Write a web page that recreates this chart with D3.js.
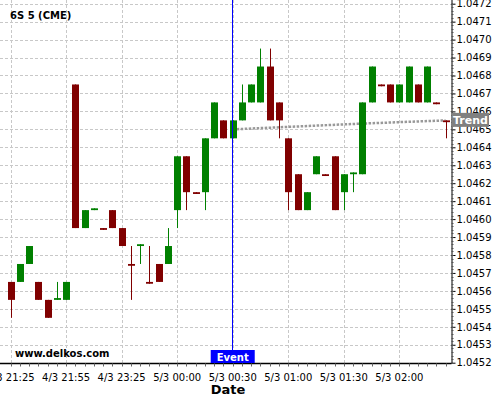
<!DOCTYPE html>
<html><head><meta charset="utf-8">
<script src="https://cdn.jsdelivr.net/npm/d3@7"></script>
<style>body{margin:0;background:#fff}svg{display:block;font-family:"DejaVu Sans",sans-serif}</style>
</head><body><svg id="c" width="500" height="400"></svg>
<script>
const opens  = [1.04565,1.04565,1.04575,1.04565,1.04555,1.04555,1.04555,1.04675,1.04595,1.04605,1.04595,1.04605,1.04595,1.04575,1.04585,1.04565,1.04575,1.04575,1.04605,1.04635,1.04615,1.04615,1.04645,1.04655,1.04645,1.04655,1.04665,1.04665,1.04685,1.04665,1.04645,1.04625,1.04605,1.04625,1.04625,1.04635,1.04615,1.04625,1.04625,1.04665,1.04675,1.04675,1.04665,1.04665,1.04675,1.04665,1.04665,1.04655];
const closes = [1.04555,1.04575,1.04585,1.04555,1.04545,1.04556,1.04565,1.04595,1.04605,1.04606,1.04594,1.04595,1.04585,1.04574,1.04586,1.04564,1.04565,1.04585,1.04635,1.04615,1.04614,1.04645,1.04665,1.04645,1.04655,1.04665,1.04675,1.04685,1.04655,1.04655,1.04615,1.04605,1.04615,1.04635,1.04624,1.04605,1.04625,1.04626,1.04665,1.04685,1.04674,1.04665,1.04675,1.04685,1.04665,1.04685,1.04664,1.04654];
const highs  = [1.04565,1.04575,1.04585,1.04565,1.04555,1.04565,1.04565,1.04675,1.04605,1.04606,1.04595,1.04605,1.04595,1.04585,1.04586,1.04585,1.04575,1.04595,1.04635,1.04635,1.04615,1.04645,1.04665,1.04655,1.04655,1.04675,1.04675,1.04695,1.04695,1.04665,1.04645,1.04625,1.04615,1.04635,1.04625,1.04635,1.04625,1.04626,1.04665,1.04685,1.04675,1.04675,1.04675,1.04685,1.04675,1.04685,1.04665,1.04655];
const lows   = [1.04545,1.04565,1.04575,1.04555,1.04545,1.04555,1.04555,1.04595,1.04595,1.04605,1.04594,1.04595,1.04585,1.04555,1.04575,1.04564,1.04565,1.04575,1.04595,1.04605,1.04614,1.04605,1.04645,1.04645,1.04645,1.04655,1.04665,1.04665,1.04655,1.04645,1.04605,1.04605,1.04605,1.04625,1.04624,1.04605,1.04605,1.04615,1.04625,1.04665,1.04674,1.04665,1.04665,1.04665,1.04665,1.04665,1.04664,1.04645];
const xLabels = ["4/3 21:25","4/3 21:55","4/3 23:25","5/3 00:00","5/3 00:30","5/3 01:00","5/3 01:30","5/3 02:00"];
const xLabelIdx = [0,6,12,18,24,30,36,42];
const yTicks = [1.0452,1.0453,1.0454,1.0455,1.0456,1.0457,1.0458,1.0459,1.0460,1.0461,1.0462,1.0463,1.0464,1.0465,1.0466,1.0467,1.0468,1.0469,1.0470,1.0471,1.0472];
const trendIdx = [24,37,47];
const trendVal = [1.04650,1.04653,1.04655];
const eventIdx = 24;
const title = "6S 5 (CME)";

const svg = d3.select("#c");
const axisX = 451.5, axisY = 363.5;
const x = d3.scaleLinear().domain([0,47]).range([10.6,445.6]);
const y = d3.scaleLinear().domain([1.0452,1.0472]).range([362.7,3.7]);

// grid
const g = svg.append("g");
g.selectAll(".hg").data(yTicks).join("line")
  .attr("x1",0).attr("x2",axisX).attr("y1",d=>Math.round(y(d))+0.5).attr("y2",d=>Math.round(y(d))+0.5)
  .attr("stroke","#c8c8c8").attr("stroke-dasharray","3,2");
g.selectAll(".vg").data(xLabelIdx).join("line")
  .attr("y1",0).attr("y2",axisY).attr("x1",d=>Math.round(x(d))+0.5).attr("x2",d=>Math.round(x(d))+0.5)
  .attr("stroke","#c8c8c8").attr("stroke-dasharray","3,2");

// title
svg.append("text").attr("x",10).attr("y",19).attr("font-size",10).attr("font-weight","bold").text(title);

// trend (behind candles)
svg.append("path").datum(trendIdx.map((d,i)=>[d,trendVal[i]]))
  .attr("d",d3.line().x(d=>x(d[0])).y(d=>y(d[1])))
  .attr("fill","none").attr("stroke","#999").attr("stroke-width",2.5).attr("stroke-dasharray","2.5,1.5");

// candles
const idx = d3.range(opens.length);
const cg = svg.append("g");
const col = i => closes[i] >= opens[i] ? "#008000" : "#800000";
cg.selectAll(".w").data(idx).join("line")
  .attr("x1",i=>Math.round(x(i))+0.5).attr("x2",i=>Math.round(x(i))+0.5)
  .attr("y1",i=>y(highs[i])).attr("y2",i=>y(lows[i]))
  .attr("stroke",col).attr("stroke-width",1);
cg.selectAll(".b").data(idx).join("rect")
  .attr("x",i=>Math.round(x(i))-3).attr("width",7)
  .attr("y",i=>Math.min(y(opens[i]),y(closes[i])))
  .attr("height",i=>Math.max(1.5,Math.abs(y(opens[i])-y(closes[i]))))
  .attr("fill",col);

// event line
svg.append("line").attr("x1",Math.round(x(eventIdx))-0.5).attr("x2",Math.round(x(eventIdx))-0.5)
  .attr("y1",0).attr("y2",axisY).attr("stroke","#0000ff").attr("stroke-width",1);

// watermark
svg.append("text").attr("x",15).attr("y",357).attr("font-size",10).attr("font-weight","bold").text("www.delkos.com");

// y axis
const yAxis = d3.axisRight(y).tickValues(yTicks).tickFormat(d3.format(".4f")).tickSize(4).tickPadding(1);
const ya = svg.append("g").attr("transform",`translate(${axisX},0)`).call(yAxis);
ya.select(".domain").attr("d",`M0.5,0V${axisY}`).attr("stroke","#000");
ya.selectAll("text").attr("font-size",10).attr("font-family","DejaVu Sans").attr("fill","#000");
const minorY = d3.range(1.0452,1.04721,0.00002);
ya.selectAll(".mt").data(minorY).join("line").attr("x1",0).attr("x2",2)
  .attr("y1",d=>Math.round(y(d))+0.5).attr("y2",d=>Math.round(y(d))+0.5).attr("stroke","#555");

// x axis
const xa = svg.append("g").attr("transform",`translate(0,${axisY})`);
xa.append("line").attr("x1",0).attr("x2",axisX).attr("y1",0).attr("y2",0).attr("stroke","#000").attr("stroke-width",1.5);
xa.selectAll(".mt").data(idx).join("line").attr("x1",i=>Math.round(x(i))+0.5).attr("x2",i=>Math.round(x(i))+0.5)
  .attr("y1",0).attr("y2",3).attr("stroke","#666");
xa.selectAll(".lb").data(xLabelIdx).join("text").attr("x",d=>x(d)).attr("y",17)
  .attr("text-anchor","middle").attr("font-size",10).text((d,i)=>xLabels[i]);
svg.append("text").attr("x",228).attr("y",394).attr("text-anchor","middle").attr("font-size",13).attr("font-weight","bold").text("Date");

// event label
const ex = x(eventIdx);
svg.append("rect").attr("x",ex-22).attr("y",350).attr("width",44).attr("height",13).attr("fill","#0000ff");
svg.append("text").attr("x",ex).attr("y",360.5).attr("text-anchor","middle").attr("font-size",10).attr("font-weight","bold").attr("fill","#fff").text("Event");

// trend label
const ty = y(trendVal[trendVal.length-1]);
svg.append("rect").attr("x",axisX+0.5).attr("y",ty-7.5).attr("width",37).attr("height",14).attr("fill","#808080");
svg.append("text").attr("x",axisX+19).attr("y",ty+3.5).attr("text-anchor","middle").attr("font-size",11).attr("font-weight","bold").attr("fill","#fff").text("Trend");
</script></body></html>
